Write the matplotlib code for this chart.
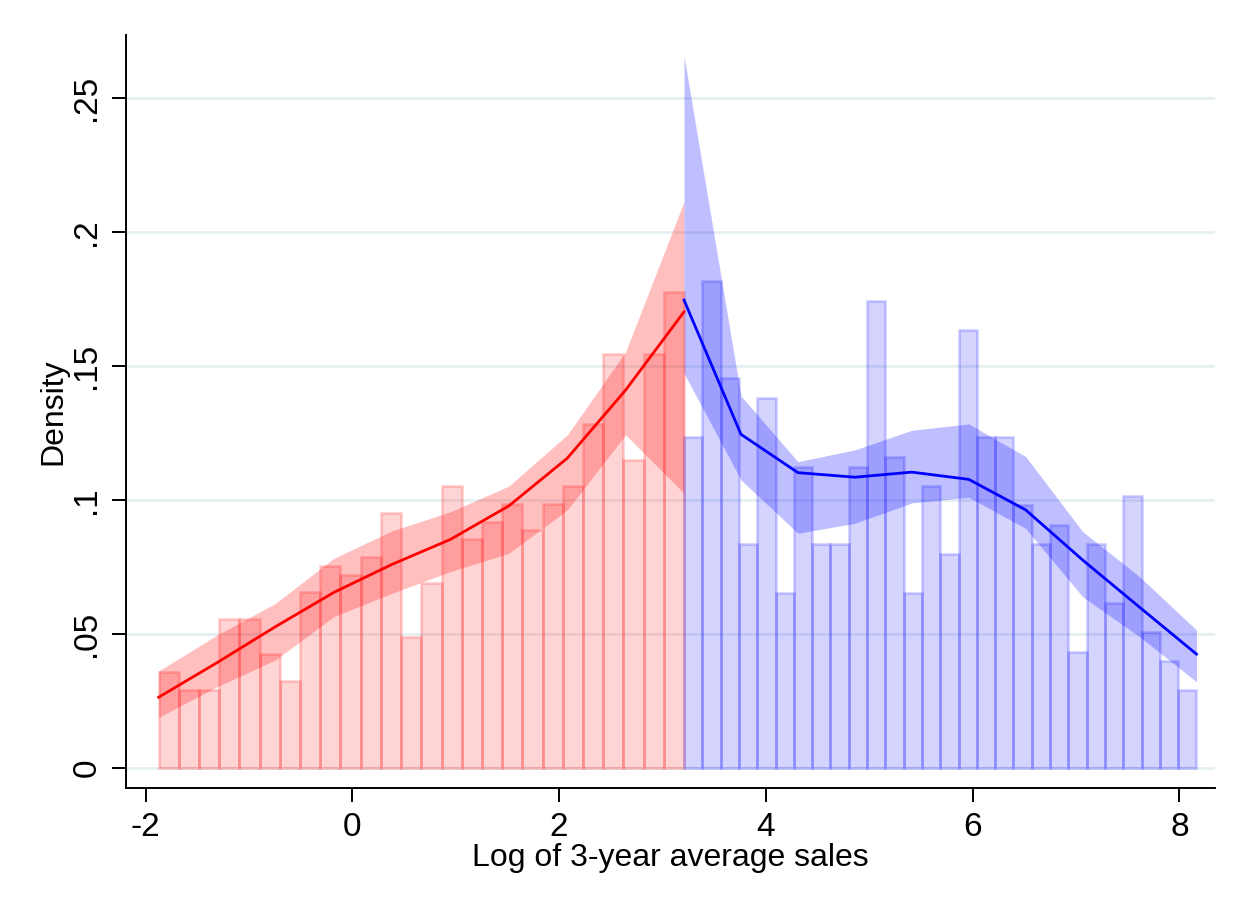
import matplotlib.pyplot as plt

plt.rcParams['font.family'] = ['Liberation Sans', 'DejaVu Sans']

# histogram bins below / above the cutoff
red_lo, cutoff, blue_hi = -1.874, 3.208, 8.165
red_heights = [0.0359, 0.0291, 0.0291, 0.0555, 0.0555, 0.0425, 0.0326, 0.0656,
               0.0754, 0.0720, 0.0786, 0.0953, 0.0488, 0.0689, 0.1052, 0.0853,
               0.0919, 0.0986, 0.0887, 0.0986, 0.1052, 0.1282, 0.1545, 0.1149,
               0.1545, 0.1776]
blue_heights = [0.1236, 0.1817, 0.1454, 0.0835, 0.1382, 0.0654, 0.1124, 0.0835,
                0.0835, 0.1124, 0.1744, 0.1162, 0.0654, 0.1052, 0.0797, 0.1634,
                0.1236, 0.1236, 0.0981, 0.0835, 0.0907, 0.0434, 0.0835, 0.0617,
                0.1015, 0.0509, 0.0399, 0.0291]

# local polynomial density fits with confidence bands
red_fit_x = [-1.874, -1.309, -0.745, -0.180, 0.385, 0.949, 1.514, 2.079, 2.643, 3.208]
red_fit = [0.0264, 0.0393, 0.0527, 0.0655, 0.0760, 0.0853, 0.0978, 0.1156, 0.1410, 0.1702]
red_hi = [0.0362, 0.0496, 0.0614, 0.0782, 0.0885, 0.0956, 0.1052, 0.1243, 0.1553, 0.2113]
red_lo_ci = [0.0189, 0.0303, 0.0403, 0.0565, 0.0652, 0.0733, 0.0801, 0.0963, 0.1243, 0.1025]

blue_fit_x = [3.208, 3.759, 4.310, 4.861, 5.411, 5.962, 6.513, 7.064, 7.614, 8.165]
blue_fit = [0.1746, 0.1245, 0.1102, 0.1085, 0.1104, 0.1077, 0.0963, 0.0776, 0.0600, 0.0425]
blue_hi_ci = [0.2657, 0.1388, 0.1143, 0.1187, 0.1260, 0.1284, 0.1162, 0.0882, 0.0714, 0.0515]
blue_lo_ci = [0.1473, 0.1075, 0.0876, 0.0913, 0.0989, 0.1010, 0.0894, 0.0639, 0.0490, 0.0322]

xticks = [-2, 0, 2, 4, 6, 8]
yticks = [0, 0.05, 0.1, 0.15, 0.2, 0.25]
ytick_labels = ['0', '.05', '.1', '.15', '.2', '.25']

fig = plt.figure(figsize=(12.47, 9.09), dpi=100)
ax = fig.add_axes([0.101, 0.133, 0.873, 0.8285])


def draw_hist(heights, lo, hi, rgb):
    w = (hi - lo) / len(heights)
    lefts = [lo + i * w for i in range(len(heights))]
    ax.bar(lefts, heights, width=w, align='edge', color=rgb + (0.17,),
           edgecolor=rgb + (0.18,), linewidth=2.0, zorder=2)


draw_hist(red_heights, red_lo, cutoff, (1.0, 0.0, 0.0))
draw_hist(blue_heights, cutoff, blue_hi, (0.0, 0.0, 1.0))

ax.fill_between(red_fit_x, red_lo_ci, red_hi, color=(1, 0, 0, 0.25), lw=0, zorder=3)
ax.fill_between(blue_fit_x, blue_lo_ci, blue_hi_ci, color=(0, 0, 1, 0.25), lw=0, zorder=3)
ax.plot(red_fit_x, red_fit, color='red', lw=2.0, zorder=4)
ax.plot(blue_fit_x, blue_fit, color='blue', lw=2.0, zorder=4)

ax.set_xlim(-2.19, 8.34)
ax.set_ylim(-0.0075, 0.2735)
ax.set_xticks(xticks)
ax.set_xticklabels([str(t) for t in xticks])
ax.set_yticks(yticks)
ax.set_yticklabels(ytick_labels, rotation=90, va='center')

ax.yaxis.grid(True, color='#e6eff1', lw=2)
ax.set_axisbelow(True)
for s in ['top', 'right']:
    ax.spines[s].set_visible(False)
for s in ['left', 'bottom']:
    ax.spines[s].set_linewidth(1.4)
ax.tick_params(axis='both', length=10, width=1.4, labelsize=24, pad=7)

ax.set_xlabel('Log of 3-year average sales', fontsize=23, labelpad=0)
ax.set_ylabel('Density', fontsize=23, labelpad=2)

fig.savefig('out.png', dpi=100, facecolor='white')
